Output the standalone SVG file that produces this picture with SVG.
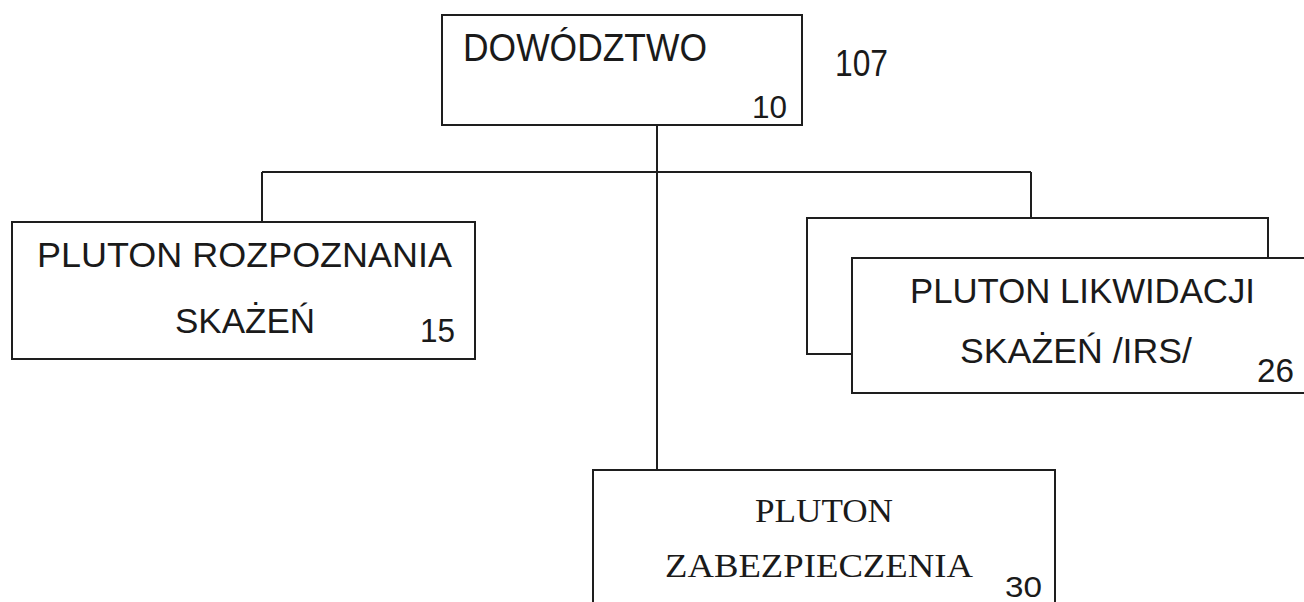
<svg xmlns="http://www.w3.org/2000/svg" width="1304" height="602" viewBox="0 0 1304 602">
<style>
.box{fill:#fff;stroke:#1e1e1e;stroke-width:2}
.ln{fill:none;stroke:#1e1e1e;stroke-width:2}
.s{font-family:"Liberation Sans",Arial,sans-serif;fill:#1a1a1a}
.r{font-family:"Liberation Serif","Times New Roman",serif;fill:#1a1a1a}
</style>
<rect width="1304" height="602" fill="#fff"/>
<g id="connectors">
<path class="ln" d="M657 125V470"/>
<path class="ln" d="M262 172H1031"/>
<path class="ln" d="M262 172V222"/>
<path class="ln" d="M1031 172V218"/>
</g>
<g id="dowodztwo">
<rect class="box" x="442" y="15" width="360" height="110"/>
<text class="s" x="463" y="61" font-size="39" textLength="244" lengthAdjust="spacingAndGlyphs">DOWÓDZTWO</text>
<text class="s" x="752" y="118" font-size="31" textLength="35" lengthAdjust="spacingAndGlyphs">10</text>
</g>
<g id="total">
<text class="s" x="835" y="76" font-size="37" textLength="53" lengthAdjust="spacingAndGlyphs">107</text>
</g>
<g id="pluton-rozpoznania">
<rect class="box" x="12" y="222" width="463" height="137"/>
<text class="s" x="37" y="267" font-size="35" textLength="415" lengthAdjust="spacingAndGlyphs">PLUTON ROZPOZNANIA</text>
<text class="s" x="175" y="333" font-size="35" textLength="140" lengthAdjust="spacingAndGlyphs">SKAŻEŃ</text>
<text class="s" x="420" y="342" font-size="34" textLength="35" lengthAdjust="spacingAndGlyphs">15</text>
</g>
<g id="pluton-likwidacji">
<rect class="box" x="807" y="218" width="461" height="136"/>
<rect class="box" x="852" y="258" width="460" height="135"/>
<text class="s" x="910" y="303" font-size="35" textLength="345" lengthAdjust="spacingAndGlyphs">PLUTON LIKWIDACJI</text>
<text class="s" x="960" y="363" font-size="35" textLength="232" lengthAdjust="spacingAndGlyphs">SKAŻEŃ /IRS/</text>
<text class="s" x="1257" y="382" font-size="34" textLength="37" lengthAdjust="spacingAndGlyphs">26</text>
</g>
<g id="pluton-zabezpieczenia">
<rect class="box" x="593" y="470" width="462" height="150"/>
<text class="r" x="755" y="522" font-size="34" textLength="138" lengthAdjust="spacingAndGlyphs">PLUTON</text>
<text class="r" x="665" y="577" font-size="34" textLength="308" lengthAdjust="spacingAndGlyphs">ZABEZPIECZENIA</text>
<text class="s" x="1005" y="597" font-size="30" textLength="37" lengthAdjust="spacingAndGlyphs">30</text>
</g>
</svg>
